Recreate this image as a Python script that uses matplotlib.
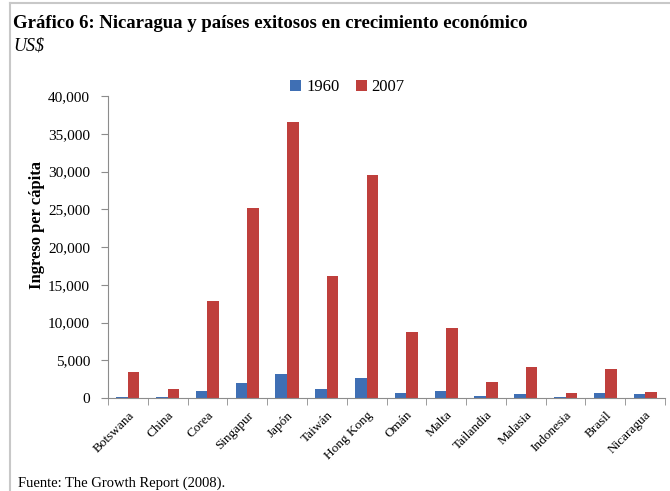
import numpy as np
import matplotlib.pyplot as plt
from matplotlib.lines import Line2D

paises = ["Botswana", "China", "Corea", "Singapur", "Japón", "Taiwán", "Hong Kong",
          "Omán", "Malta", "Tailandia", "Malasia", "Indonesia", "Brasil", "Nicaragua"]
ing_1960 = [150, 100, 950, 2000, 3200, 1200, 2700, 700, 950, 200, 500, 100, 700, 500]
ing_2007 = [3500, 1150, 12900, 25100, 36600, 16100, 29600, 8700, 9300, 2100, 4100, 650, 3800, 750]
yticks = [0, 5000, 10000, 15000, 20000, 25000, 30000, 35000, 40000]

azul = "#3f6fb4"
rojo = "#bf3f3c"
gris = "#8c8c8c"
serif = "Liberation Serif"

fig = plt.figure(figsize=(6.7, 4.91), dpi=100)

# marco de la figura
fig.add_artist(Line2D([10/670, 10/670], [0, 1 - 3/491], transform=fig.transFigure, color="#c8c8c8", lw=1.5))
fig.add_artist(Line2D([10/670, 1], [1 - 3/491, 1 - 3/491], transform=fig.transFigure, color="#c8c8c8", lw=1.5))

fig.text(13/670, 1 - 28/491, "Gráfico 6: Nicaragua y países exitosos en crecimiento económico",
         family=serif, weight="bold", fontsize=13.5, va="baseline")
fig.text(13/670, 1 - 51/491, "US$", family=serif, style="italic", fontsize=13, va="baseline")
fig.text(18/670, 1/491, "Fuente: The Growth Report (2008).", family=serif,
         fontsize=10.5, va="bottom")

ax = fig.add_axes([108/670, 1 - 398/491, 557/670, 302/491])
x = np.arange(len(paises))
w = 0.29
ax.bar(x - w/2, ing_1960, w, color=azul, label="1960")
ax.bar(x + w/2, ing_2007, w, color=rojo, label="2007")

ax.set_xlim(-0.5, len(paises) - 0.5)
ax.set_ylim(0, 40000)
ax.set_yticks(yticks)
ax.set_yticklabels([f"{v:,}" for v in yticks], family=serif, fontsize=11)
ax.set_xticks(x)
ax.set_xticklabels(paises, rotation=45, ha="right", rotation_mode="anchor", family=serif, fontsize=9.5)
ax.set_xticks(np.arange(-0.5, len(paises), 1), minor=True)
ax.tick_params(axis="x", which="major", length=0, pad=8)
ax.tick_params(axis="x", which="minor", length=5, color=gris, direction="out")
ax.tick_params(axis="y", length=5, color=gris, direction="out", pad=8)
for s in ["top", "right"]:
    ax.spines[s].set_visible(False)
for s in ["left", "bottom"]:
    ax.spines[s].set_color(gris)

ax.set_ylabel("Ingreso per cápita", family=serif, weight="bold", fontsize=12)
ax.yaxis.set_label_coords(-0.114, 0.573)

ax.legend(loc="center", bbox_to_anchor=(0.43, 1.03), ncol=2, frameon=False,
          prop={"family": serif, "size": 12}, handlelength=0.65, handleheight=0.65,
          handletextpad=0.3, columnspacing=1.0, borderpad=0)

fig.savefig("out.png", dpi=100)
